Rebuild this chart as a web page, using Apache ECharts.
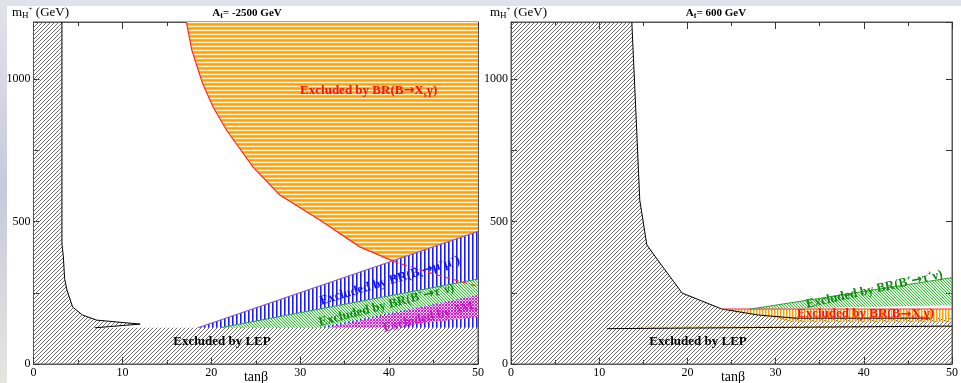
<!DOCTYPE html>
<html>
<head>
<meta charset="utf-8">
<script src="https://cdn.jsdelivr.net/npm/echarts@6/dist/echarts.min.js"></script>
<style>
  html, body { margin: 0; padding: 0; }
  body { width: 961px; height: 383px; overflow: hidden;
         background: linear-gradient(to bottom, #e2e2ec 0%, #c6c9df 50%, #e6e6de 100%); }
  #paper { position: absolute; left: 7px; top: 6px; right: 0; bottom: 0; background: #fff; }
  #chart { position: absolute; left: 0; top: 0; width: 961px; height: 383px; }
</style>
</head>
<body>
<div id="paper"></div>
<div id="chart"></div>
<script>
  // ---- data (tanβ, m_H+ in GeV) ----
  // left panel, A_t = -2500 GeV
  var leftLep = [[0, 0], [50, 0], [50, 127], [6.9, 127], [12, 140], [7.1, 154], [5.5, 172], [4.4, 200],
                 [3.76, 260], [3.5, 300], [3.35, 380], [3.2, 420], [3.2, 1200], [0, 1200]];
  var leftLepEdge = [[3.2, 1200], [3.2, 420], [3.35, 380], [3.5, 300], [3.76, 260], [4.4, 200], [5.5, 172],
                     [7.1, 154], [12, 140], [6.9, 127]];
  var leftXsgSolid = [[17.2, 1200], [17.8, 1102], [19.0, 986], [20.2, 902], [21.7, 821], [24.7, 691],
                      [27.7, 593], [32.2, 505], [36.7, 411], [38.9, 382], [40.5, 360]];
  var leftXsgDashed = [[40.5, 360], [45, 316], [50, 272]];
  var leftBsmumu = [[18.5, 127], [50, 465], [50, 127]];
  var leftBtaunu = [[21, 127], [50, 298], [50, 242], [32, 127]];
  var leftDeltaM = [[33, 127], [50, 242], [50, 165], [39, 127]];

  // right panel, A_t = 600 GeV
  var rightLep = [[0, 0], [50, 0], [50, 161], [47.5, 161], [32.2, 161], [28, 172], [23.9, 193],
                  [19.4, 249], [16.8, 358], [15.4, 418], [14.6, 575], [14.2, 856], [13.7, 1200], [0, 1200]];
  var rightLepEdge = [[13.7, 1200], [14.2, 856], [14.6, 575], [15.4, 418], [16.8, 358], [19.4, 249],
                      [23.9, 193], [28, 172], [32.2, 161], [47.5, 161]];
  var rightXsg = [[23.9, 193], [50, 193], [50, 147], [32, 147], [28, 172]];
  var rightXsgTop = [[23.9, 193], [50, 193]];
  var rightXsgStrip = [[14.5, 127], [50, 129], [50, 134], [14.5, 131]];
  var rightThinLine = [[10.9, 124], [50, 133]];
  var rightBtaunu = [[27, 192], [50, 303], [50, 206]];

  var xTicks = [0, 10, 20, 30, 40, 50];
  var yLabels = [0, 500, 1000];

  // ---- fill patterns (pixel drawn, so they stay crisp) ----
  function makePattern(n, bg, pick) {
    var c = document.createElement('canvas');
    c.width = n; c.height = n;
    var g = c.getContext('2d');
    if (bg) { g.fillStyle = bg; g.fillRect(0, 0, n, n); }
    for (var x = 0; x < n; x++) {
      for (var y = 0; y < n; y++) {
        var col = pick(x, y);
        if (col) { g.fillStyle = col; g.fillRect(x, y, 1, 1); }
      }
    }
    return { image: c, repeat: 'repeat' };
  }
  var hatchFill = makePattern(8, null, function (x, y) {
    return (x + y) % 4 === 0 ? '#6e6e6e' : null;
  });
  var orangeHFill = makePattern(4, null, function (x, y) {
    return ['#ffa000', '#ffbe55', '#fff1d6', '#ffb22a'][y];
  });
  var orangeVFill = makePattern(3, null, function (x) {
    return x === 0 ? '#ffa000' : (x === 1 ? 'rgba(255,196,80,0.7)' : null);
  });
  var blueFill = makePattern(4, '#fff', function (x) {
    return x === 0 ? '#1a1aff' : (x === 1 ? '#7878ff' : null);
  });
  var greenFill = makePattern(6, '#fff', function (x, y) {
    var k = (x - y + 6) % 3;
    return k === 0 ? '#3cc43c' : (k === 1 ? '#b8ecb8' : null);
  });
  var greenTFill = makePattern(6, null, function (x, y) {
    var k = (x - y + 6) % 3;
    return k === 0 ? '#3cc43c' : (k === 1 ? 'rgba(60,196,60,0.3)' : null);
  });
  var magentaFill = makePattern(6, '#f8d0f8', function (x, y) {
    return ((x + y) % 3 === 0 || (x - y + 6) % 3 === 0) ? '#d424d4' : null;
  });

  // ---- series helpers ----
  function area(panel, pts, fill, z) {
    return {
      type: 'custom', xAxisIndex: panel * 2, yAxisIndex: panel * 2, clip: true, z: z || 2,
      data: pts, silent: true,
      renderItem: function (params, api) {
        if (params.dataIndex !== 0) return null;
        return { type: 'polygon', shape: { points: pts.map(function (d) { return api.coord(d); }) },
                 style: { fill: fill } };
      }
    };
  }
  function line(panel, pts, color, width, dash, z) {
    return {
      type: 'custom', xAxisIndex: panel * 2, yAxisIndex: panel * 2, clip: true, z: z || 5,
      data: pts, silent: true,
      renderItem: function (params, api) {
        if (params.dataIndex !== 0) return null;
        return { type: 'polyline', shape: { points: pts.map(function (d) { return api.coord(d); }) },
                 style: { stroke: color, lineWidth: width, fill: null, lineDash: dash || null } };
      }
    };
  }
  var SERIF = '"Liberation Serif", "DejaVu Serif", serif';
  function richSet(color) {
    return {
      n: { fill: color, fontSize: 13, fontWeight: 'bold', fontFamily: SERIF },
      a: { fill: color, fontSize: 13, fontWeight: 'bold', fontFamily: '"DejaVu Sans"' },
      s: { fill: color, fontSize: 8, fontWeight: 'bold', fontFamily: SERIF, verticalAlign: 'bottom', padding: [7, 0, 0, 0] },
      p: { fill: color, fontSize: 8, fontWeight: 'bold', fontFamily: SERIF, verticalAlign: 'top', padding: [0, 0, 7, 0] }
    };
  }
  function labels(panel, list) {
    return {
      type: 'custom', xAxisIndex: panel * 2, yAxisIndex: panel * 2, clip: true, z: 10,
      data: list.map(function (l) { return l.at; }), silent: true,
      renderItem: function (params, api) {
        var l = list[params.dataIndex];
        var p = api.coord(l.at);
        return {
          type: 'text', x: p[0], y: p[1], rotation: (l.rot || 0) * Math.PI / 180,
          style: { text: l.text, rich: richSet(l.color), align: 'center', verticalAlign: 'middle',
                   textAlign: 'center', textVerticalAlign: 'middle' }
        };
      }
    };
  }

  var leftLabels = [
    { at: [37.7, 958], rot: 0, color: '#ff1010', text: '{n|Excluded by BR(B}{a|→}{n|X}{s|s}{n|γ)}' },
    { at: [40.1, 292], rot: 16.5, color: '#1414ff', text: '{n|Excluded by BR(B}{s|s}{a|→}{n|μ}{p|+}{n|μ}{p|−}{n|)}' },
    { at: [39.7, 206], rot: 14.5, color: '#0e8c0e', text: '{n|Excluded by BR(B}{p|+}{a|→}{n|τ}{p|+}{n|ν)}' },
    { at: [44.6, 165], rot: 14, color: '#c018c0', text: '{n|Excluded by ΔM}{s|s}' },
    { at: [21.2, 77], rot: 0, color: '#000', text: '{n|Excluded by LEP}' }
  ];
  var rightLabels = [
    { at: [41.2, 261], rot: 12.5, color: '#0e8c0e', text: '{n|Excluded by BR(B}{p|+}{a|→}{n|τ}{p|+}{n|ν)}' },
    { at: [40.2, 175], rot: 0, color: '#ff1010', text: '{n|Excluded by BR(B}{a|→}{n|X}{s|s}{n|γ)}' },
    { at: [21.2, 77], rot: 0, color: '#000', text: '{n|Excluded by LEP}' }
  ];

  // ---- axes ----
  function xAx(grid, pos) {
    return {
      type: 'value', gridIndex: grid, position: pos, min: 0, max: 50, interval: 10,
      axisLine: { onZero: false, lineStyle: { color: '#555' } },
      axisTick: { inside: true, length: 7, lineStyle: { color: '#333' } },
      minorTick: { show: true, splitNumber: 2, length: 4, lineStyle: { color: '#333' } },
      splitLine: { show: false },
      axisLabel: { show: pos === 'bottom', color: '#000', fontFamily: SERIF, fontSize: 12, margin: 3,
                   formatter: function (v) { return xTicks.indexOf(v) >= 0 ? String(v) : ''; } }
    };
  }
  function yAx(grid, pos) {
    return {
      type: 'value', gridIndex: grid, position: pos, min: 0, max: 1200, interval: 250,
      axisLine: { onZero: false, lineStyle: { color: '#555' } },
      axisTick: { inside: true, length: 6, lineStyle: { color: '#333' } },
      splitLine: { show: false },
      axisLabel: { show: pos === 'left', color: '#000', fontFamily: SERIF, fontSize: 12, margin: 3,
                   formatter: function (v) { return yLabels.indexOf(v) >= 0 ? String(v) : ''; } }
    };
  }

  function titleRich() {
    return {
      n: { fill: '#000', fontSize: 11, fontWeight: 'bold', fontFamily: SERIF },
      s: { fill: '#000', fontSize: 8, fontWeight: 'bold', fontFamily: SERIF, verticalAlign: 'bottom', padding: [5, 0, 0, 0] }
    };
  }
  function nameRich() {
    return {
      n: { fill: '#000', fontSize: 13, fontFamily: SERIF },
      s: { fill: '#000', fontSize: 9, fontFamily: SERIF, verticalAlign: 'bottom', padding: [6, 0, 0, 0] },
      p: { fill: '#000', fontSize: 7, fontFamily: SERIF, verticalAlign: 'top', padding: [0, 0, 6, 0] }
    };
  }

  var chart = echarts.init(document.getElementById('chart'), null, { renderer: 'canvas' });
  chart.setOption({
    backgroundColor: 'transparent',
    animation: false,
    grid: [
      { left: 33.5, top: 22, width: 444.5, height: 342, show: true, backgroundColor: '#fff', borderColor: '#555', borderWidth: 1 },
      { left: 511, top: 22, width: 444, height: 342, show: true, backgroundColor: '#fff', borderColor: '#555', borderWidth: 1 }
    ],
    xAxis: [xAx(0, 'bottom'), xAx(0, 'top'), xAx(1, 'bottom'), xAx(1, 'top')],
    yAxis: [yAx(0, 'left'), yAx(0, 'right'), yAx(1, 'left'), yAx(1, 'right')],
    graphic: [
      { type: 'text', x: 12, y: 13, style: { text: '{n|m}{s|H}{p|+}{n| (GeV)}', rich: nameRich(), verticalAlign: 'middle' } },
      { type: 'text', x: 490, y: 13, style: { text: '{n|m}{s|H}{p|+}{n| (GeV)}', rich: nameRich(), verticalAlign: 'middle' } },
      { type: 'text', x: 247, y: 13, style: { text: '{n|A}{s|t}{n|= -2500 GeV}', rich: titleRich(), align: 'center', verticalAlign: 'middle' } },
      { type: 'text', x: 716, y: 13, style: { text: '{n|A}{s|t}{n|= 600 GeV}', rich: titleRich(), align: 'center', verticalAlign: 'middle' } },
      { type: 'text', x: 256, y: 377, style: { text: 'tanβ', font: '14px ' + SERIF, fill: '#000', align: 'center', verticalAlign: 'middle' } },
      { type: 'text', x: 733, y: 377, style: { text: 'tanβ', font: '14px ' + SERIF, fill: '#000', align: 'center', verticalAlign: 'middle' } }
    ],
    series: [
      // left panel
      area(0, leftLep, hatchFill, 2),
      area(0, leftXsgSolid.concat(leftXsgDashed.slice(1), [[50, 1200]]), orangeHFill, 3),
      area(0, leftBsmumu, blueFill, 4),
      area(0, leftBtaunu, greenFill, 5),
      area(0, leftDeltaM, magentaFill, 6),
      line(0, leftLepEdge, '#000', 1, null, 8),
      line(0, [leftBsmumu[0], leftBsmumu[1]], '#7d55e6', 1.2, null, 8),
      line(0, [leftBtaunu[0], leftBtaunu[1]], '#2aa02a', 1, null, 8),
      line(0, leftXsgSolid, '#ff2a2a', 1.2, null, 8),
      line(0, leftXsgDashed, '#ff2a2a', 1.2, [5, 4], 8),
      labels(0, leftLabels),
      // right panel
      area(1, rightLep, hatchFill, 2),
      area(1, rightXsg, orangeVFill, 3),
      area(1, rightXsgStrip, orangeVFill, 3),
      area(1, rightBtaunu, greenTFill, 4),
      line(1, rightLepEdge, '#000', 1, null, 8),
      line(1, rightThinLine, '#000', 1, null, 8),
      line(1, rightXsgTop, '#ff2a2a', 1.2, null, 8),
      line(1, [rightBtaunu[0], rightBtaunu[1]], '#2aa02a', 1, null, 8),
      labels(1, rightLabels)
    ]
  });
</script>
</body>
</html>
